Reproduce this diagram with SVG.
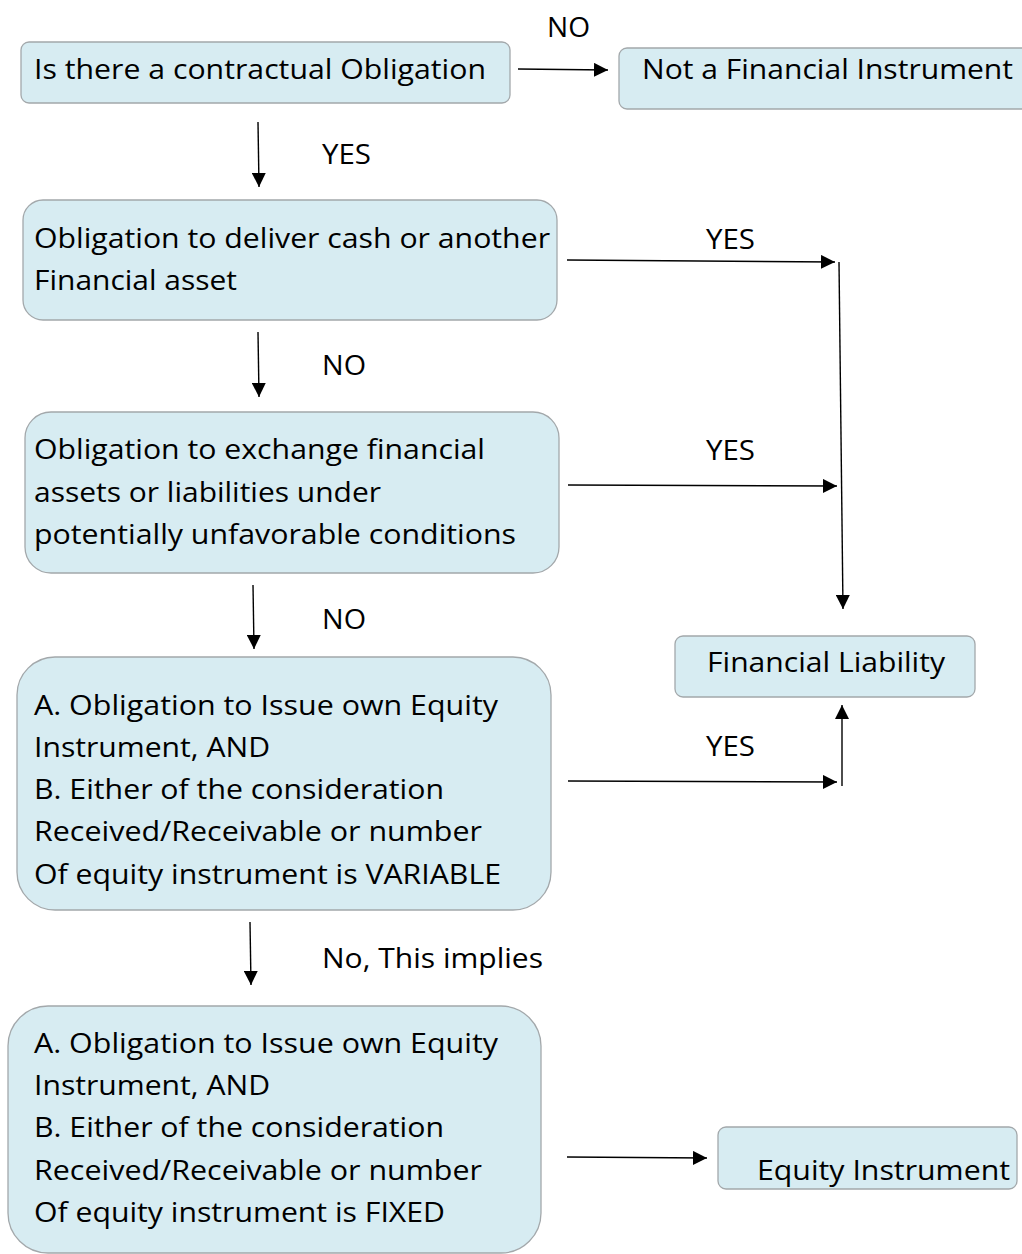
<svg xmlns="http://www.w3.org/2000/svg" width="1022" height="1254" viewBox="0 0 1022 1254">
  <style>
    .box { fill: #d7ecf2; stroke: #a3a8ab; stroke-width: 1.3; }
    .t { font-family: "Open Sans", "Noto Sans", "Liberation Sans", sans-serif; font-size: 27.5px; fill: #000; }
    .c { stroke: #000; stroke-width: 1.4; fill: none; }
  </style>
  <defs>
    <marker id="ah" viewBox="0 0 10 10" refX="10" refY="5" markerWidth="14" markerHeight="14" markerUnits="userSpaceOnUse" orient="auto">
      <path d="M0,0 L10,5 L0,10 z" fill="#000"/>
    </marker>
  </defs>
  <rect width="1022" height="1254" fill="#fff"/>

  <!-- connectors -->
  <g id="connectors">
    <line class="c" x1="518" y1="69" x2="608" y2="70" marker-end="url(#ah)"/>
    <line class="c" x1="258" y1="122" x2="259" y2="187" marker-end="url(#ah)"/>
    <line class="c" x1="567" y1="260" x2="835" y2="262" marker-end="url(#ah)"/>
    <line class="c" x1="839" y1="262" x2="843" y2="609" marker-end="url(#ah)"/>
    <line class="c" x1="258" y1="332" x2="259" y2="397" marker-end="url(#ah)"/>
    <line class="c" x1="568" y1="485" x2="837" y2="486" marker-end="url(#ah)"/>
    <line class="c" x1="253" y1="585" x2="254" y2="649" marker-end="url(#ah)"/>
    <line class="c" x1="568" y1="781" x2="837" y2="782" marker-end="url(#ah)"/>
    <line class="c" x1="842" y1="786" x2="842" y2="705" marker-end="url(#ah)"/>
    <line class="c" x1="250" y1="922" x2="251" y2="985" marker-end="url(#ah)"/>
    <line class="c" x1="567" y1="1157" x2="707" y2="1158" marker-end="url(#ah)"/>
    <text class="t" x="547" y="37" textLength="43" lengthAdjust="spacingAndGlyphs">NO</text>
    <text class="t" x="322" y="164" textLength="49" lengthAdjust="spacingAndGlyphs">YES</text>
    <text class="t" x="706" y="249" textLength="49" lengthAdjust="spacingAndGlyphs">YES</text>
    <text class="t" x="322" y="375" textLength="44" lengthAdjust="spacingAndGlyphs">NO</text>
    <text class="t" x="706" y="460" textLength="49" lengthAdjust="spacingAndGlyphs">YES</text>
    <text class="t" x="322" y="629" textLength="44" lengthAdjust="spacingAndGlyphs">NO</text>
    <text class="t" x="706" y="756" textLength="49" lengthAdjust="spacingAndGlyphs">YES</text>
    <text class="t" x="322" y="968" textLength="221" lengthAdjust="spacingAndGlyphs">No, This implies</text>
  </g>

  <g id="contractual-obligation">
    <rect class="box" x="21" y="42" width="489" height="61" rx="8"/>
    <text class="t" x="34" y="79" textLength="452" lengthAdjust="spacingAndGlyphs">Is there a contractual Obligation</text>
  </g>

  <g id="not-financial-instrument">
    <rect class="box" x="619" y="48" width="412" height="61" rx="8"/>
    <text class="t" x="642" y="79" textLength="371" lengthAdjust="spacingAndGlyphs">Not a Financial Instrument</text>
  </g>

  <g id="deliver-cash">
    <rect class="box" x="23" y="200" width="534" height="120" rx="20"/>
    <text class="t" x="34" y="248" textLength="516" lengthAdjust="spacingAndGlyphs">Obligation to deliver cash or another</text>
    <text class="t" x="34" y="290" textLength="203" lengthAdjust="spacingAndGlyphs">Financial asset</text>
  </g>

  <g id="exchange-assets">
    <rect class="box" x="25" y="412" width="534" height="161" rx="26"/>
    <text class="t" x="34" y="459" textLength="451" lengthAdjust="spacingAndGlyphs">Obligation to exchange financial</text>
    <text class="t" x="34" y="502" textLength="347" lengthAdjust="spacingAndGlyphs">assets or liabilities under</text>
    <text class="t" x="34" y="544" textLength="482" lengthAdjust="spacingAndGlyphs">potentially unfavorable conditions</text>
  </g>

  <g id="financial-liability">
    <rect class="box" x="675" y="636" width="300" height="61" rx="8"/>
    <text class="t" x="707" y="672" textLength="238" lengthAdjust="spacingAndGlyphs">Financial Liability</text>
  </g>

  <g id="variable-equity">
    <rect class="box" x="17" y="657" width="534" height="253" rx="38"/>
    <text class="t" x="34" y="715" textLength="464" lengthAdjust="spacingAndGlyphs">A. Obligation to Issue own Equity</text>
    <text class="t" x="34" y="757" textLength="236" lengthAdjust="spacingAndGlyphs">Instrument, AND</text>
    <text class="t" x="34" y="799" textLength="410" lengthAdjust="spacingAndGlyphs">B. Either of the consideration</text>
    <text class="t" x="34" y="841" textLength="448" lengthAdjust="spacingAndGlyphs">Received/Receivable or number</text>
    <text class="t" x="34" y="884" textLength="467" lengthAdjust="spacingAndGlyphs">Of equity instrument is VARIABLE</text>
  </g>

  <g id="fixed-equity">
    <rect class="box" x="8" y="1006" width="533" height="247" rx="40"/>
    <text class="t" x="34" y="1053" textLength="464" lengthAdjust="spacingAndGlyphs">A. Obligation to Issue own Equity</text>
    <text class="t" x="34" y="1095" textLength="236" lengthAdjust="spacingAndGlyphs">Instrument, AND</text>
    <text class="t" x="34" y="1137" textLength="410" lengthAdjust="spacingAndGlyphs">B. Either of the consideration</text>
    <text class="t" x="34" y="1180" textLength="448" lengthAdjust="spacingAndGlyphs">Received/Receivable or number</text>
    <text class="t" x="34" y="1222" textLength="411" lengthAdjust="spacingAndGlyphs">Of equity instrument is FIXED</text>
  </g>

  <g id="equity-instrument">
    <rect class="box" x="718" y="1127" width="299" height="62" rx="8"/>
    <text class="t" x="757" y="1180" textLength="253" lengthAdjust="spacingAndGlyphs">Equity Instrument</text>
  </g>
</svg>
